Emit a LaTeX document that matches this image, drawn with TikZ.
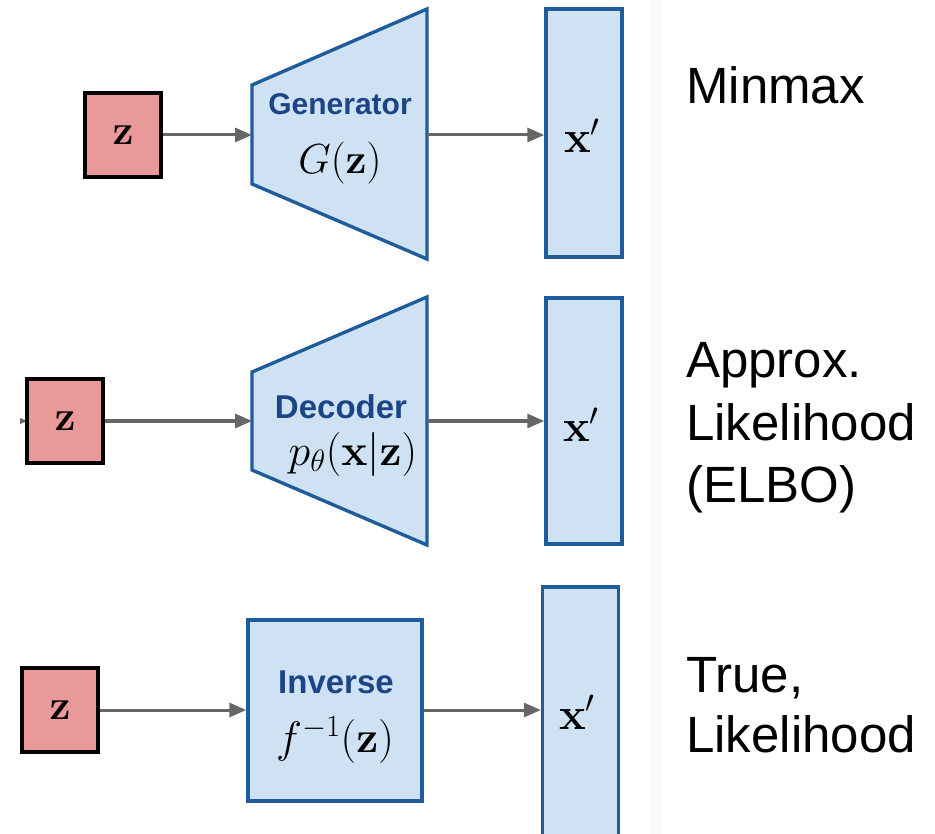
\RequirePackage{fix-cm}
\documentclass[tikz,border=0pt]{standalone}
\usepackage[no-math]{fontspec}
\newfontfamily\arial{Liberation Sans}
\usetikzlibrary{arrows.meta}
\definecolor{zpink}{HTML}{EA9999}
\definecolor{netfill}{HTML}{CFE2F3}
\definecolor{netblue}{HTML}{1F5C9C}
\definecolor{titleblue}{HTML}{1C4587}
\definecolor{arrowgray}{HTML}{666666}
\definecolor{stripegray}{HTML}{FAFAFA}
\begin{document}
\begin{tikzpicture}[x=1pt,y=-1pt,
  zbox/.style={draw=black,line width=3.4pt,fill=zpink,minimum width=76pt,minimum height=84pt,inner sep=0pt,font=\fontsize{42}{46}\selectfont},
  netshape/.style={draw=netblue,line width=3.4pt,fill=netfill,line join=miter},
  outbox/.style={draw=netblue,line width=3.4pt,fill=netfill,minimum width=76pt,inner sep=0pt},
  conn/.style={draw=arrowgray,line width=3pt,-{Triangle[length=17pt,width=14pt]}},
  title/.style={text=titleblue,font=\arial\bfseries\fontsize{30}{36}\selectfont,anchor=base,inner sep=0pt},
  formula/.style={font=\fontsize{42}{48}\selectfont,anchor=base,inner sep=0pt},
  xlab/.style={font=\fontsize{45}{50}\selectfont,anchor=base west,inner sep=0pt},
  side/.style={font=\arial\fontsize{51}{62}\selectfont,anchor=base west,inner sep=0pt}
]
\useasboundingbox (0,0) rectangle (935,834);
\clip (0,0) rectangle (935,834);
\fill[white] (0,0) rectangle (935,834);
\fill[stripegray] (650,0) rectangle (663,834);

% ---------- Row 1 ----------
\node[zbox] (z1) at (123,135) {$\mathbf{z}$};
\draw[netshape] (252,85) -- (427,9) -- (427,259) -- (252,184) -- cycle;
\coordinate (g1L) at (252,135);
\coordinate (g1R) at (427,135);
\node[title] (gen) at (340,115) {Generator};
\node[formula] (genf) at (340,174) {$G(\mathbf{z})$};
\node[outbox,minimum height=248pt] (x1) at (584,133) {};
\node[xlab] (x1t) at (564,153) {$\mathbf{x}'$};
\draw[conn] (z1.east) -- (g1L);
\draw[conn] (g1R) -- (x1.west |- g1R);
\node[side] (s1) at (686,104) {Minmax};

% ---------- Row 2 ----------
\coordinate (stub) at (20,421);
\fill[arrowgray] (stub) ++(0,-3) -- ++(7,3) -- ++(-7,3) -- cycle;
\node[zbox] (z2) at (65,421) {$\mathbf{z}$};
\draw[netshape] (252,372) -- (427,297) -- (427,545) -- (252,470) -- cycle;
\coordinate (g2L) at (252,421);
\coordinate (g2R) at (427,421);
\node[title,font=\arial\bfseries\fontsize{33}{38}\selectfont] (dec) at (341,418) {Decoder};
\node[formula,font=\fontsize{44}{50}\selectfont] (decf) at (353,465) {$p_\theta(\mathbf{x}|\mathbf{z})$};
\node[outbox,minimum height=246pt] (x2) at (584,421) {};
\node[xlab] (x2t) at (563,442) {$\mathbf{x}'$};
\draw[conn] (z2.east) -- (g2L);
\draw[conn] (g2R) -- (x2.west |- g2R);
\node[side] (s2a) at (686,378) {Approx.};
\node[side] (s2b) at (686,440) {Likelihood};
\node[side] (s2c) at (686,502) {(ELBO)};

% ---------- Row 3 ----------
\node[zbox] (z3) at (60,710) {$\mathbf{z}$};
\node[outbox,minimum width=174pt,minimum height=181pt] (inv) at (335,710.5) {};
\node[title,font=\arial\bfseries\fontsize{33}{38}\selectfont] (invt) at (336,693) {Inverse};
\node[formula,font=\fontsize{44}{50}\selectfont] (invf) at (335,752) {$f^{-1}(\mathbf{z})$};
\node[outbox,minimum height=300pt] (x3) at (580.5,737) {};
\node[xlab] (x3t) at (559,729) {$\mathbf{x}'$};
\draw[conn] (z3.east) -- (inv.west |- z3.east);
\draw[conn] (inv.east |- z3.east) -- (x3.west |- z3.east);
\node[side] (s3a) at (686,692) {True,};
\node[side] (s3b) at (686,752) {Likelihood};
\end{tikzpicture}
\end{document}
